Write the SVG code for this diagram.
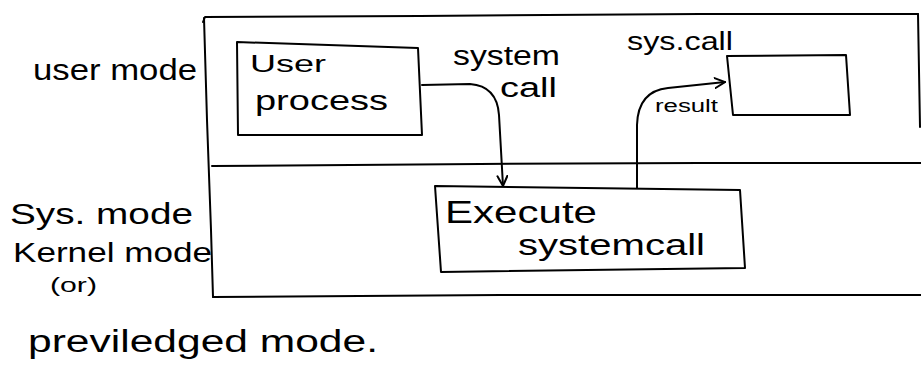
<svg xmlns="http://www.w3.org/2000/svg" width="921" height="377" viewBox="0 0 921 377">
  <style>
    .ink { fill: none; stroke: #000; stroke-width: 2; stroke-linecap: round; stroke-linejoin: round; }
    .lbl { font-family: "Liberation Sans", "DejaVu Sans", sans-serif; fill: #000; }
  </style>
  <defs>
    <marker id="head" viewBox="0 0 12 12" refX="11" refY="6" markerWidth="12" markerHeight="12" markerUnits="userSpaceOnUse" orient="auto">
      <path d="M1 1 L11 6 L1 11" fill="none" stroke="#000" stroke-width="2" stroke-linecap="round"/>
    </marker>
  </defs>

  <rect width="921" height="377" fill="#fff"/>

  <!-- mode frame: outer border and the user / system divider -->
  <g id="frame">
    <path class="ink" d="M203 22 L205 17 L420 16 L700 14 L918 14"/>
    <path class="ink" d="M918 14 L920 127"/>
    <path class="ink" d="M204 18 L207 120 L211 230 L213 297"/>
    <path class="ink" d="M212 166 L480 164 L700 163 L921 163"/>
    <path class="ink" d="M213 297 L500 295 L921 295"/>
  </g>

  <!-- side labels -->
  <g id="mode-labels">
    <text class="lbl" x="33" y="80" font-size="30" textLength="164" lengthAdjust="spacingAndGlyphs">user mode</text>
    <text class="lbl" x="10" y="224" font-size="30" textLength="183" lengthAdjust="spacingAndGlyphs">Sys. mode</text>
    <text class="lbl" x="13" y="262" font-size="27" textLength="199" lengthAdjust="spacingAndGlyphs">Kernel mode</text>
    <text class="lbl" x="50" y="292" font-size="21" textLength="47" lengthAdjust="spacingAndGlyphs">(or)</text>
    <text class="lbl" x="28" y="352" font-size="31" textLength="350" lengthAdjust="spacingAndGlyphs">previledged mode.</text>
  </g>

  <!-- user process -->
  <g id="user-process">
    <path class="ink" d="M237 42 L418 48 L422 135 L238 135 Z"/>
    <text class="lbl" x="250" y="72" font-size="24" textLength="76" lengthAdjust="spacingAndGlyphs">User</text>
    <text class="lbl" x="255" y="110" font-size="28" textLength="133" lengthAdjust="spacingAndGlyphs">process</text>
  </g>

  <!-- target box in user mode -->
  <g id="user-target">
    <path class="ink" d="M727 56 L846 55 L850 115 L733 115 Z"/>
  </g>

  <!-- execute system call -->
  <g id="execute">
    <path class="ink" d="M435 186 L740 190 L745 268 L441 272 Z"/>
    <text class="lbl" x="445" y="223" font-size="32" textLength="152" lengthAdjust="spacingAndGlyphs">Execute</text>
    <text class="lbl" x="518" y="255" font-size="30" textLength="187" lengthAdjust="spacingAndGlyphs">systemcall</text>
  </g>

  <!-- connectors -->
  <g id="connectors">
    <path class="ink" marker-end="url(#head)" d="M422 85 L470 84 Q497 86 499 115 L503 186"/>
    <path class="ink" marker-end="url(#head)" d="M637 188 L637 125 Q638 91 668 88 L725 82"/>
  </g>

  <!-- connector labels -->
  <g id="connector-labels">
    <text class="lbl" x="453" y="65" font-size="27" textLength="107" lengthAdjust="spacingAndGlyphs">system</text>
    <text class="lbl" x="500" y="97" font-size="27" textLength="57" lengthAdjust="spacingAndGlyphs">call</text>
    <text class="lbl" x="627" y="50" font-size="26" textLength="106" lengthAdjust="spacingAndGlyphs">sys.call</text>
    <text class="lbl" x="655" y="112" font-size="18" textLength="63" lengthAdjust="spacingAndGlyphs">result</text>
  </g>
</svg>
